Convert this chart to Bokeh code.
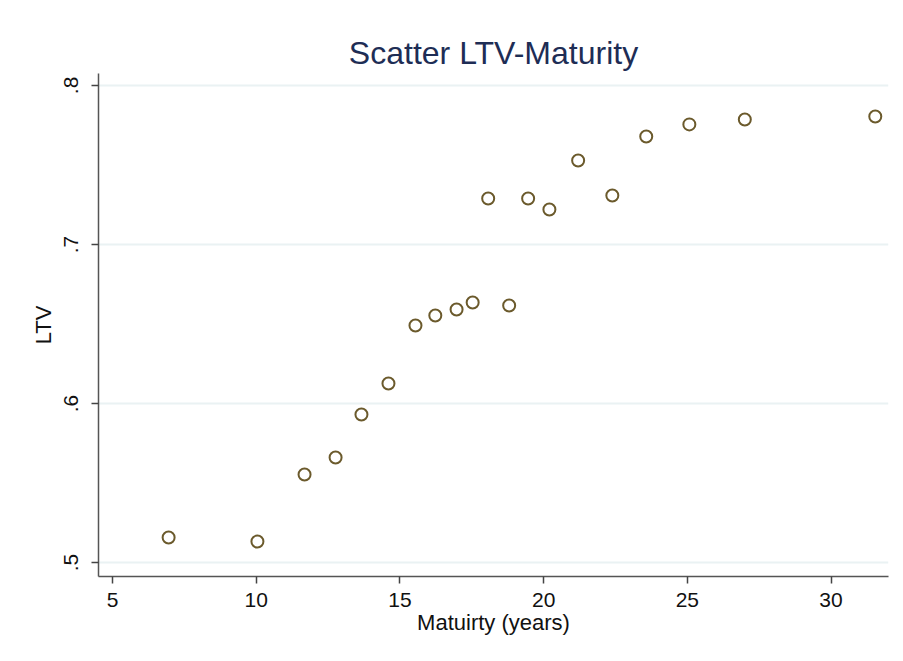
from bokeh.plotting import figure
from bokeh.models import Range1d, FixedTicker, ColumnDataSource
from bokeh.embed import file_html
from bokeh.resources import INLINE

# Data
maturity = [6.95, 10.04, 11.68, 12.76, 13.66, 14.60, 15.54, 16.23, 16.97, 17.53,
            18.80, 18.07, 19.46, 20.20, 21.20, 22.39, 23.57, 25.07, 27.00, 31.54]
ltv = [0.5157, 0.5132, 0.5553, 0.5660, 0.5931, 0.6126, 0.6490, 0.6553, 0.6591, 0.6635,
       0.6616, 0.7289, 0.7289, 0.7220, 0.7528, 0.7308, 0.7679, 0.7755, 0.7786, 0.7805]

x_ticks = [5, 10, 15, 20, 25, 30]
y_ticks = [0.5, 0.6, 0.7, 0.8]
y_tick_labels = [".5", ".6", ".7", ".8"]

src = ColumnDataSource(dict(x=maturity, y=ltv))

p = figure(width=895, height=653, output_backend="svg", toolbar_location=None,
           x_range=Range1d(4.51, 32.0), y_range=Range1d(0.4912, 0.8075),
           title="Scatter LTV-Maturity",
           min_border_left=98, min_border_right=7, min_border_top=73, min_border_bottom=77)

p.title.align = "center"
p.title.text_font = "Liberation Sans"
p.title.text_font_size = "32px"
p.title.text_font_style = "normal"
p.title.text_color = "#1e2d55"
p.title.standoff = 6

p.outline_line_color = None
p.background_fill_color = "white"
p.border_fill_color = "white"

p.xgrid.grid_line_color = None
p.ygrid.grid_line_color = "#eaf2f3"
p.ygrid.grid_line_width = 2

p.xaxis.ticker = FixedTicker(ticks=x_ticks)
p.yaxis.ticker = FixedTicker(ticks=y_ticks)
p.yaxis.major_label_overrides = {t: l for t, l in zip(y_ticks, y_tick_labels)}
p.yaxis.major_label_orientation = "vertical"

for ax in (p.xaxis, p.yaxis):
    ax.axis_line_color = "#555555"
    ax.axis_line_width = 1.5
    ax.major_tick_line_color = "#444444"
    ax.major_tick_line_width = 1.5
    ax.major_tick_in = 0
    ax.major_tick_out = 7
    ax.minor_tick_line_color = None
    ax.major_label_text_font = "Liberation Sans"
    ax.major_label_text_font_size = "21px"
    ax.major_label_text_color = "#111111"
    ax.axis_label_text_font = "Liberation Sans"
    ax.axis_label_text_font_size = "22px"
    ax.axis_label_text_font_style = "normal"
    ax.axis_label_text_color = "#111111"

p.xaxis.axis_label = "Matuirty (years)"
p.yaxis.axis_label = "LTV"
p.xaxis.major_label_standoff = 9
p.xaxis.axis_label_standoff = 0
p.yaxis.major_label_standoff = 13
p.yaxis.axis_label_standoff = 6

p.scatter("x", "y", source=src, marker="circle", size=12,
          fill_alpha=0, line_color="#6b5a2c", line_width=2)

open("out.html", "w").write(file_html(p, INLINE))
